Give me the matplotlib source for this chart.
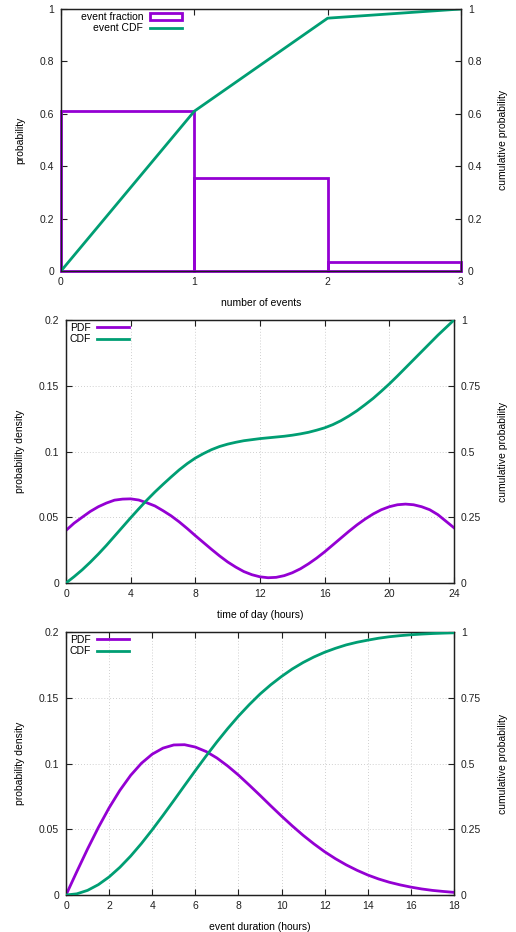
import matplotlib
matplotlib.use('Agg')
import matplotlib.pyplot as plt
import numpy as np
from matplotlib.ticker import FuncFormatter

plt.rcParams['font.family'] = ['Liberation Sans', 'DejaVu Sans']
plt.rcParams['font.size'] = 7.5

PURPLE = '#9400d3'
GREEN = '#009e73'

# panel 1: number of events
n_events = [0, 1, 2]
event_fraction = [0.61, 0.355, 0.035]
cdf_x = [0, 1, 2, 3]
event_cdf = [0.0, 0.61, 0.965, 1.0]

# panel 2: time of day (every half hour, 0..24)
hours = np.arange(0, 24.5, 0.5)
tod_pdf = [0.040, 0.0455, 0.050, 0.0544, 0.058, 0.0608, 0.063, 0.0638, 0.064,
           0.0631, 0.061, 0.0586, 0.055, 0.0511, 0.0465, 0.0414, 0.036, 0.0308,
           0.0256, 0.0206, 0.016, 0.0121, 0.0087, 0.0063, 0.0047, 0.0040,
           0.0043, 0.0056, 0.0078, 0.0108, 0.0146, 0.0189, 0.0237, 0.0289,
           0.0341, 0.0393, 0.0442, 0.0486, 0.0525, 0.0557, 0.058, 0.0595,
           0.060, 0.0595, 0.058, 0.0557, 0.052, 0.047, 0.042]
tod_cdf = [0.0, 0.024, 0.05, 0.079, 0.11, 0.143, 0.178, 0.213, 0.248, 0.282,
           0.315, 0.346, 0.375, 0.403, 0.43, 0.454, 0.475, 0.492, 0.507, 0.519,
           0.528, 0.535, 0.541, 0.545, 0.549, 0.552, 0.555, 0.558, 0.562,
           0.567, 0.573, 0.581, 0.59, 0.602, 0.617, 0.635, 0.655, 0.678, 0.702,
           0.729, 0.757, 0.787, 0.818, 0.849, 0.88, 0.911, 0.942, 0.971, 1.0]

# panel 3: event duration (every half hour, 0..18)
dur = np.arange(0, 18.5, 0.5)
dur_pdf = [0.0, 0.0177, 0.035, 0.0513, 0.0663, 0.0796, 0.091, 0.1002, 0.1071,
           0.1117, 0.1141, 0.1143, 0.1125, 0.1091, 0.1042, 0.0981, 0.0912,
           0.0836, 0.0758, 0.0678, 0.060, 0.0525, 0.0454, 0.0389, 0.0329,
           0.0276, 0.0229, 0.0188, 0.0152, 0.0122, 0.0097, 0.0077, 0.006,
           0.0046, 0.0035, 0.0027, 0.002]
dur_cdf = [0.0, 0.0044, 0.0176, 0.0393, 0.0687, 0.1053, 0.148, 0.1959, 0.248,
           0.3027, 0.359, 0.4163, 0.473, 0.5286, 0.582, 0.6326, 0.68, 0.7236,
           0.764, 0.7994, 0.831, 0.8595, 0.884, 0.905, 0.923, 0.938, 0.951,
           0.961, 0.969, 0.9763, 0.982, 0.9861, 0.9895, 0.9921, 0.9942, 0.9957,
           0.9969]

W, H = 516, 932
fig = plt.figure(figsize=(W / 100, H / 100), dpi=100)

fmt = FuncFormatter(lambda v, p: '%g' % round(v, 4))


def make_axes(left, right, top, bottom):
    ax = fig.add_axes([left / W, 1 - bottom / H, (right - left) / W, (bottom - top) / H])
    ax2 = ax.twinx()
    for a in (ax, ax2):
        for s in a.spines.values():
            s.set_linewidth(0.9)
            s.set_color('#202020')
    ax.tick_params(direction='in', length=4, width=0.8, top=True, right=False, pad=5,
                   colors='#202020', labelcolor='#202020')
    ax.tick_params(axis='x', pad=4)
    ax2.tick_params(direction='in', length=4, width=0.8, pad=5,
                    colors='#202020', labelcolor='#202020')
    ax.yaxis.set_major_formatter(fmt)
    ax.xaxis.set_major_formatter(fmt)
    ax2.yaxis.set_major_formatter(fmt)
    return ax, ax2


def labels(ax, ax2, left, right, top, bottom, xl, yl):
    w = right - left
    h = bottom - top
    ax.set_xlabel(xl)
    ax.xaxis.set_label_coords(0.5, -27.5 / h)
    ax.set_ylabel(yl)
    ax.yaxis.set_label_coords((25 - left) / w, 0.5)
    ax2.set_ylabel('cumulative probability')
    ax2.yaxis.set_label_coords((498 - left) / w, 0.5)


# ---- panel 1
L, R, T, B = 61, 461, 9, 271
ax, ax2 = make_axes(L, R, T, B)
ax.bar(n_events, event_fraction, width=1, align='edge', fill=False,
       edgecolor=PURPLE, linewidth=2, label='event fraction', zorder=3, clip_on=False)
ax2.plot(cdf_x, event_cdf, color=GREEN, lw=2, label='event CDF')
ax.set_xlim(0, 3)
ax.set_ylim(0, 1)
ax2.set_ylim(0, 1)
ax.set_xticks([0, 1, 2, 3])
ax.set_yticks([0, 0.2, 0.4, 0.6, 0.8, 1])
ax2.set_yticks([0, 0.2, 0.4, 0.6, 0.8, 1])
labels(ax, ax2, L, R, T, B, 'number of events', 'probability')
h1, l1 = ax.get_legend_handles_labels()
h2, l2 = ax2.get_legend_handles_labels()
ax2.legend(h1 + h2, l1 + l2, loc='upper right', bbox_to_anchor=(0.31, 1.0),
           frameon=False, markerfirst=False, handlelength=3.1, handletextpad=0.6,
           labelspacing=0.1, borderaxespad=0.2, borderpad=0.1)


def pdf_panel(L, R, T, B, x, pdf, cdf, xmax, xstep, xlabel):
    ax, ax2 = make_axes(L, R, T, B)
    ax.plot(x, pdf, color=PURPLE, lw=2, label='PDF', zorder=3)
    ax2.plot(x, cdf, color=GREEN, lw=2, label='CDF', zorder=3)
    ax.set_xlim(0, xmax)
    ax.set_ylim(0, 0.2)
    ax2.set_ylim(0, 1)
    ax.set_xticks(range(0, xmax + 1, xstep))
    ax.set_yticks([0, 0.05, 0.1, 0.15, 0.2])
    ax2.set_yticks([0, 0.25, 0.5, 0.75, 1])
    ax.grid(True, color='#c0c0c0', linestyle=(0, (1, 2.5)), linewidth=0.6)
    ax.set_axisbelow(True)
    labels(ax, ax2, L, R, T, B, xlabel, 'probability density')
    h1, l1 = ax.get_legend_handles_labels()
    h2, l2 = ax2.get_legend_handles_labels()
    ax2.legend(h1 + h2, l1 + l2, loc='upper left', bbox_to_anchor=(0.0, 1.0),
               frameon=False, markerfirst=False, handlelength=3.1,
               handletextpad=0.6, labelspacing=0.1, borderaxespad=0.2, borderpad=0.1)


pdf_panel(66, 454, 320, 583, hours, tod_pdf, tod_cdf, 24, 4, 'time of day (hours)')
pdf_panel(66, 454, 632, 895, dur, dur_pdf, dur_cdf, 18, 2, 'event duration (hours)')

fig.savefig('out.png', dpi=100)
